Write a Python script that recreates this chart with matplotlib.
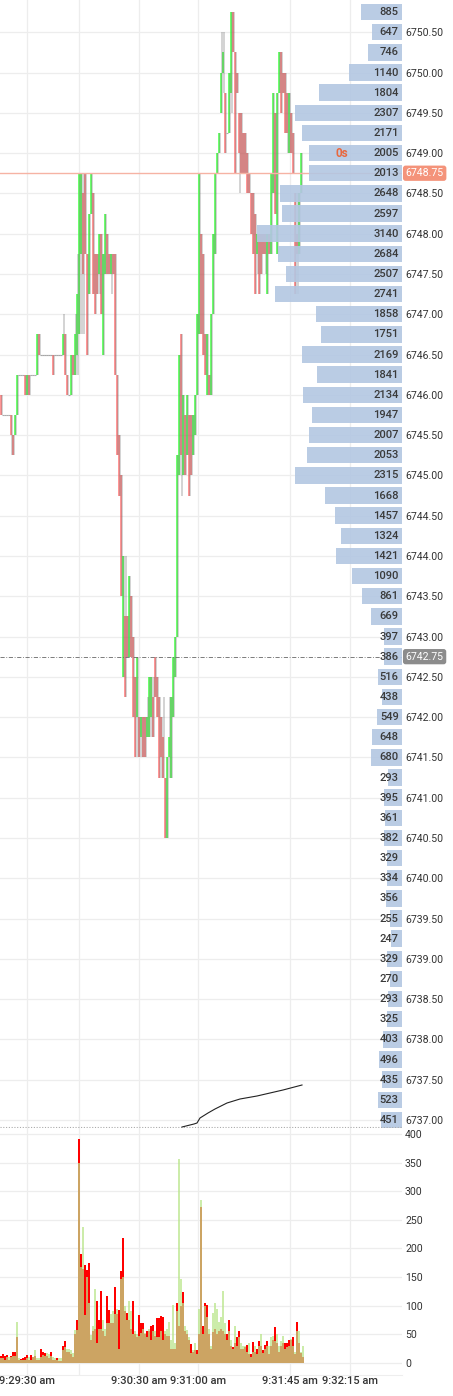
import numpy as np
import matplotlib.pyplot as plt

plt.rcParams['font.family'] = ['Roboto', 'DejaVu Sans']

# ---- price bars (one every ~1 s), prices in index points ----
bar_open = [
    6746.00, 6745.75, 6745.75, 6745.75, 6745.75, 6745.75, 6745.50, 6745.50, 6745.75, 6746.25,
    6746.25, 6746.25, 6746.25, 6746.00, 6746.25, 6746.25, 6746.25, 6746.25, 6746.25, 6746.75,
    6746.50, 6746.50, 6746.50, 6746.50, 6746.50, 6746.50, 6746.50, 6746.50, 6746.50, 6746.50,
    6746.50, 6746.50, 6746.75, 6746.25, 6746.00, 6746.00, 6746.50, 6746.25, 6746.50, 6746.75,
    6747.75, 6748.50, 6748.75, 6747.75, 6747.25, 6748.25, 6748.50, 6747.75, 6747.75, 6747.50,
    6748.00, 6746.50, 6747.50, 6748.00, 6747.75, 6747.50, 6747.75, 6747.75, 6746.25, 6745.50,
    6745.00, 6742.50, 6743.25, 6743.25, 6742.75, 6743.50, 6743.00, 6742.50, 6742.00, 6742.00,
    6741.75, 6742.00, 6742.00, 6741.75, 6741.75, 6742.00, 6742.25, 6742.75, 6742.50, 6742.25,
    6742.00, 6741.75, 6741.25, 6740.50, 6741.50, 6741.25, 6742.00, 6742.50, 6743.00, 6745.00,
    6746.75, 6745.00, 6745.75, 6745.25, 6745.75, 6745.75, 6745.25, 6745.50, 6746.00, 6746.75,
    6748.00, 6747.75, 6746.75, 6746.00, 6746.25, 6746.00, 6747.00, 6747.75, 6748.75, 6749.00,
    6749.50, 6750.00, 6749.75, 6749.25, 6749.25, 6749.75, 6750.75, 6750.25, 6750.00, 6749.50,
    6749.50, 6749.25, 6749.25, 6749.00, 6748.75, 6748.50, 6748.50, 6748.25, 6747.75, 6748.00,
    6748.00, 6748.00, 6748.00, 6747.25, 6748.00, 6747.75, 6748.50, 6749.50, 6747.75, 6749.75,
    6750.25, 6750.00, 6750.00, 6749.75, 6749.00, 6749.50, 6749.25, 6748.50, 6748.00, 6747.75,
    6748.50, 6748.75]
bar_close = [
    6745.75, 6745.75, 6745.75, 6745.75, 6745.75, 6745.50, 6745.25, 6745.75, 6746.25, 6746.25,
    6746.25, 6746.25, 6746.00, 6746.25, 6746.00, 6746.25, 6746.25, 6746.25, 6746.75, 6746.50,
    6746.50, 6746.50, 6746.50, 6746.50, 6746.50, 6746.50, 6746.25, 6746.50, 6746.50, 6746.50,
    6746.50, 6746.75, 6746.25, 6746.00, 6746.00, 6746.50, 6746.25, 6746.75, 6747.25, 6748.75,
    6748.75, 6747.50, 6747.75, 6746.50, 6748.25, 6748.75, 6747.25, 6747.00, 6747.25, 6748.00,
    6747.00, 6747.75, 6748.25, 6747.50, 6747.50, 6747.75, 6747.50, 6746.25, 6745.25, 6744.75,
    6743.50, 6744.00, 6742.25, 6742.75, 6743.75, 6742.75, 6742.00, 6741.50, 6742.75, 6741.50,
    6742.00, 6741.50, 6741.50, 6742.00, 6742.50, 6742.50, 6741.75, 6742.25, 6742.00, 6741.25,
    6741.50, 6741.25, 6740.50, 6741.50, 6741.75, 6742.25, 6742.75, 6743.00, 6745.25, 6746.50,
    6745.25, 6746.00, 6745.00, 6746.00, 6744.75, 6745.00, 6745.75, 6746.00, 6747.00, 6748.75,
    6746.75, 6746.50, 6746.25, 6746.75, 6746.00, 6747.00, 6748.00, 6748.75, 6749.00, 6749.25,
    6750.00, 6750.25, 6749.00, 6749.25, 6750.00, 6750.75, 6750.25, 6748.75, 6749.75, 6749.00,
    6748.75, 6748.75, 6748.75, 6748.50, 6748.50, 6748.00, 6747.75, 6747.25, 6748.00, 6747.25,
    6747.50, 6747.75, 6747.75, 6748.00, 6747.75, 6748.75, 6749.75, 6748.25, 6749.75, 6750.25,
    6749.50, 6749.75, 6749.25, 6749.25, 6749.75, 6749.00, 6748.75, 6747.25, 6747.75, 6748.50,
    6749.00, 6748.75]
bar_high = [
    6746.00, 6745.75, 6745.75, 6745.75, 6745.75, 6745.75, 6745.50, 6745.75, 6746.25, 6746.25,
    6746.25, 6746.25, 6746.25, 6746.25, 6746.25, 6746.25, 6746.25, 6746.25, 6746.75, 6746.75,
    6746.50, 6746.50, 6746.50, 6746.50, 6746.50, 6746.50, 6746.50, 6746.50, 6746.50, 6746.50,
    6746.50, 6747.00, 6746.75, 6746.25, 6746.00, 6746.50, 6746.50, 6747.00, 6747.75, 6748.75,
    6748.75, 6748.75, 6748.75, 6747.75, 6748.25, 6748.75, 6748.50, 6747.75, 6747.75, 6748.00,
    6748.00, 6747.75, 6748.25, 6748.00, 6747.75, 6747.75, 6747.75, 6747.75, 6746.25, 6745.50,
    6745.00, 6744.00, 6744.00, 6743.25, 6743.75, 6743.50, 6743.00, 6742.50, 6742.75, 6742.00,
    6742.00, 6742.00, 6742.00, 6742.25, 6742.50, 6742.50, 6742.50, 6742.75, 6742.50, 6742.25,
    6742.00, 6742.25, 6741.25, 6741.50, 6742.25, 6742.25, 6742.75, 6743.00, 6745.25, 6746.50,
    6746.75, 6746.00, 6745.75, 6746.00, 6745.75, 6745.75, 6745.75, 6746.00, 6747.00, 6748.75,
    6748.00, 6747.75, 6746.75, 6746.75, 6746.25, 6747.00, 6748.00, 6748.75, 6749.00, 6749.25,
    6750.50, 6750.50, 6749.75, 6749.50, 6750.00, 6750.75, 6750.75, 6750.25, 6750.00, 6749.50,
    6749.50, 6749.25, 6749.25, 6749.00, 6748.75, 6748.50, 6748.50, 6748.25, 6748.00, 6748.00,
    6748.00, 6748.00, 6748.00, 6748.00, 6748.00, 6748.75, 6749.75, 6749.50, 6749.75, 6750.25,
    6750.25, 6750.00, 6750.00, 6749.75, 6749.75, 6749.50, 6749.25, 6748.50, 6748.50, 6748.50,
    6749.00, 6749.00]
bar_low = [
    6745.75, 6745.75, 6745.75, 6745.75, 6745.75, 6745.25, 6745.25, 6745.50, 6745.75, 6746.25,
    6746.25, 6746.25, 6746.00, 6746.00, 6746.00, 6746.25, 6746.25, 6746.25, 6746.25, 6746.50,
    6746.50, 6746.50, 6746.50, 6746.50, 6746.50, 6746.50, 6746.25, 6746.50, 6746.50, 6746.50,
    6746.50, 6746.50, 6746.25, 6746.00, 6746.00, 6746.00, 6746.25, 6746.25, 6746.25, 6746.75,
    6746.75, 6746.75, 6747.75, 6746.50, 6747.25, 6748.25, 6747.25, 6747.00, 6747.25, 6747.25,
    6747.00, 6746.50, 6747.50, 6747.50, 6747.50, 6747.25, 6747.50, 6746.25, 6745.25, 6744.75,
    6743.50, 6742.50, 6742.25, 6742.75, 6742.75, 6742.75, 6742.00, 6741.50, 6741.50, 6741.50,
    6741.50, 6741.50, 6741.50, 6741.75, 6741.75, 6741.75, 6741.75, 6742.25, 6742.00, 6741.25,
    6741.25, 6741.25, 6740.50, 6740.50, 6741.25, 6741.25, 6742.00, 6742.50, 6743.00, 6745.00,
    6744.75, 6745.00, 6745.00, 6745.25, 6744.75, 6745.00, 6745.25, 6745.50, 6746.00, 6746.75,
    6746.75, 6746.50, 6746.25, 6746.00, 6746.00, 6746.00, 6747.00, 6747.75, 6748.75, 6749.00,
    6749.50, 6749.75, 6749.00, 6749.25, 6749.25, 6749.50, 6750.25, 6748.75, 6749.75, 6748.50,
    6748.75, 6748.75, 6748.75, 6748.50, 6748.50, 6748.00, 6747.75, 6747.25, 6747.50, 6747.25,
    6747.50, 6747.75, 6747.50, 6747.25, 6747.75, 6747.75, 6748.50, 6748.25, 6747.75, 6749.75,
    6749.50, 6749.75, 6749.25, 6749.00, 6749.00, 6749.00, 6748.75, 6747.25, 6747.25, 6747.75,
    6748.50, 6748.75]

# ---- volume per bar: up-tick (green) and down-tick (red) ----
vol_green = [
    8, 8, 5, 10, 10, 10, 12, 12, 72, 8,
    5, 5, 5, 8, 10, 6, 10, 22, 8, 8,
    10, 14, 12, 18, 15, 12, 10, 8, 6, 8,
    8, 22, 28, 25, 25, 22, 18, 58, 58, 350,
    168, 238, 84, 150, 104, 49, 65, 129, 35, 60,
    60, 75, 60, 70, 70, 85, 90, 85, 95, 25,
    147, 150, 100, 75, 108, 90, 50, 55, 50, 48,
    52, 60, 52, 45, 60, 40, 55, 55, 45, 45,
    55, 40, 55, 60, 72, 40, 102, 35, 90, 356,
    146, 105, 65, 58, 45, 17, 22, 35, 15, 95,
    285, 50, 100, 80, 60, 30, 87, 104, 95, 72,
    80, 126, 70, 40, 55, 40, 25, 65, 30, 45,
    35, 30, 30, 20, 35, 10, 20, 30, 15, 30,
    50, 18, 25, 30, 30, 45, 48, 38, 50, 30,
    38, 48, 25, 28, 30, 42, 30, 20, 55, 55,
    20, 30]
vol_red = [
    12, 15, 12, 14, 5, 12, 20, 20, 45, 5,
    7, 8, 10, 14, 6, 14, 10, 12, 5, 6,
    25, 20, 18, 12, 8, 20, 6, 5, 8, 4,
    3, 30, 38, 20, 20, 15, 10, 50, 75, 392,
    190, 165, 171, 163, 174, 40, 55, 60, 108, 75,
    126, 55, 48, 117, 93, 70, 70, 132, 85, 92,
    160, 219, 90, 88, 75, 60, 108, 50, 45, 83,
    70, 70, 50, 55, 55, 65, 67, 48, 78, 79,
    82, 80, 50, 48, 48, 25, 25, 25, 105, 65,
    100, 124, 55, 50, 40, 34, 20, 22, 22, 50,
    273, 65, 105, 102, 50, 25, 54, 60, 50, 55,
    60, 55, 50, 50, 75, 30, 28, 35, 45, 55,
    25, 25, 28, 32, 15, 15, 37, 20, 25, 38,
    30, 22, 32, 38, 15, 30, 40, 63, 35, 20,
    30, 35, 35, 35, 40, 40, 45, 15, 72, 35,
    18, 10]

# ---- volume profile (price level -> contracts) ----
profile_prices = [6751.00 - 0.25 * k for k in range(57)]
profile_vols = [
    650, 885, 647, 746, 1140, 1804, 2307, 2171, 2005, 2013,
    2648, 2597, 3140, 2684, 2507, 2741, 1858, 1751, 2169, 1841,
    2134, 1947, 2007, 2053, 2315, 1668, 1457, 1324, 1421, 1090,
    861, 669, 397, 386, 516, 438, 549, 648, 680, 293,
    395, 361, 382, 329, 334, 356, 255, 247, 329, 270,
    293, 325, 403, 496, 435, 523, 451]

# ---- cumulative indicator line (arbitrary units) ----
cum_bar = [91, 97, 98.5, 100, 104, 107.5, 113.5, 120, 128.5, 135, 141.5, 151]
cum_val = [0, 30, 40, 90, 140, 180, 240, 280, 310, 340, 370, 420]

tick_pos = [13.5, 39.5, 69.5, 99, 145, 175]
tick_labels = ['9:29:30 am', '', '9:30:30 am', '9:31:00 am', '9:31:45 am', '9:32:15 am']

last_price = 6748.75
marker_price = 6742.75

TXT = '#333333'
GRID = '#ededed'

fig = plt.figure(figsize=(4.53, 13.96), dpi=100)
W, H = 453.0, 1396.0
ax = fig.add_axes([0, 1 - 1128 / H, 402 / W, 1128 / H])
axv = fig.add_axes([0, 21 / H, 402 / W, 247 / H])

n = len(bar_open)
x = np.arange(n) + 0.5
o = np.array(bar_open)
c = np.array(bar_close)
hi = np.array(bar_high)
lo = np.array(bar_low)

# price panel
ax.set_xlim(0, 201)
ax.set_ylim(6736.90, 6750.90)
ax.set_xticks(tick_pos)
ax.grid(True, color=GRID, lw=0.9)
ax.set_axisbelow(True)
for s in ax.spines.values():
    s.set_visible(False)

up = c > o
dn = c < o
flat = c == o
ax.vlines(x[~flat] + 0.35, lo[~flat], hi[~flat], color='#555555', alpha=0.28, lw=1.3)
ax.bar(x[up], (c - o)[up], bottom=o[up], width=0.75, color='#3dff3d', alpha=0.75)
ax.bar(x[dn], (c - o)[dn], bottom=o[dn], width=0.75, color='#ff5656', alpha=0.62)
ax.hlines(c[flat], x[flat] - 0.5, x[flat] + 0.5, color='#8a8a8a', lw=0.8, alpha=0.7)

ax.axhline(last_price, color='#f6b3a4', lw=1.0)
ax.axhline(marker_price, color='#666666', lw=0.6, ls=(0, (5, 2, 1, 2)))

# volume profile on a reversed twin axis so bars grow from the right edge
axp = ax.twiny()
axp.set_xlim(8700, 0)
axp.barh(profile_prices, profile_vols, height=0.205, left=0, color='#b3c7e2', alpha=0.9)
axp.axis('off')

# indicator line with its own scale (topmost axes, also carries the labels)
axc = ax.twinx()
axc.set_ylim(-10, 11270)
axc.axhline(0, color='#aaaaaa', lw=0.8, ls=(0, (1, 1.5)))
axc.plot(cum_bar, cum_val, color='#222222', lw=0.8)
axc.axis('off')

# twinx moves the price ticks to the left, put them back on the right
price_ticks = np.arange(6737.0, 6750.51, 0.5)
ax.set_yticks(price_ticks)
ax.set_yticklabels(['%.2f' % v for v in price_ticks])
ax.yaxis.tick_right()
ax.tick_params(axis='y', which='both', left=False, labelleft=False, right=False,
               labelright=True, length=0, pad=2.2, labelsize=7.6, labelcolor=TXT)
ax.tick_params(axis='x', length=0, labelbottom=False, labeltop=False)

ytr = ax.get_yaxis_transform()
ymin, ymax = ax.get_ylim()
for p, v in zip(profile_prices, profile_vols):
    if p > ymax - 0.1:
        continue  # row only partly visible at the top edge
    axc.annotate(str(v), xy=(1, p), xycoords=ytr, xytext=(-2.3, 0),
                 textcoords='offset points', ha='right', va='center', fontsize=8,
                 fontweight='medium', color='#3a3a3a', annotation_clip=False)

# price tags
axc.annotate('%.2f' % last_price, xy=(1, last_price), xycoords=ytr,
             xytext=(2.6, 0), textcoords='offset points', ha='left', va='center',
             fontsize=7.6, color='white', annotation_clip=False,
             bbox=dict(boxstyle='round,pad=0.25', fc='#f4937a', ec='none'))
axc.annotate('%.2f' % marker_price, xy=(1, marker_price), xycoords=ytr,
             xytext=(2.6, 0), textcoords='offset points', ha='left', va='center',
             fontsize=7.6, color='white', annotation_clip=False,
             bbox=dict(boxstyle='round,pad=0.25', fc='#8c8c8c', ec='none'))
axc.annotate('0s', xy=(171, 6749.0), xycoords=ax.transData, color='#e8683f',
             fontsize=8.5, fontweight='bold', ha='center', va='center')

# volume panel
xv = np.arange(len(vol_red)) + 0.5
axv.bar(xv, vol_red, width=1.0, color='#ff0000')
axv.bar(xv, vol_green, width=1.0, color='#b9e58a', alpha=0.72)
axv.set_xlim(0, 201)
axv.set_ylim(-21, 410.5)
axv.set_yticks(np.arange(0, 401, 50))
axv.yaxis.tick_right()
axv.tick_params(axis='y', length=0, pad=2.2, labelsize=7.6, labelcolor=TXT)
axv.set_xticks(tick_pos)
axv.set_xticklabels(tick_labels)
axv.tick_params(axis='x', length=0, pad=1.0, labelsize=8, labelcolor=TXT)
for lab in axv.get_xticklabels():
    lab.set_fontweight('medium')
axv.grid(True, color=GRID, lw=0.9)
axv.set_axisbelow(True)
for s in axv.spines.values():
    s.set_visible(False)
axv.spines['bottom'].set_visible(True)
axv.spines['bottom'].set_color('#eeeeee')

fig.savefig('out.png', dpi=100)
